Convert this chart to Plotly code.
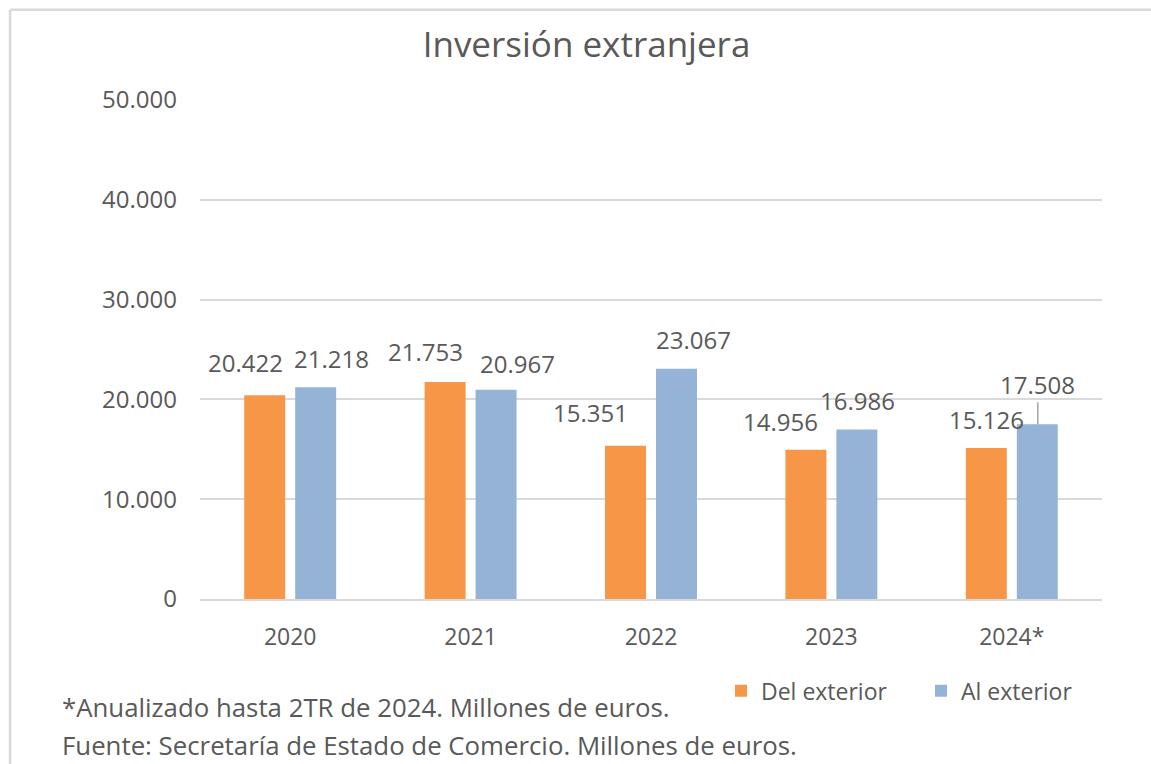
import plotly.graph_objects as go

categories = ["2020", "2021", "2022", "2023", "2024*"]
del_exterior = [20422, 21753, 15351, 14956, 15126]
al_exterior = [21218, 20967, 23067, 16986, 17508]
series_names = ["Del exterior", "Al exterior"]
title_text = "Inversión extranjera"
notes = ["*Anualizado hasta 2TR de 2024. Millones de euros.",
         "Fuente: Secretaría de Estado de Comercio. Millones de euros."]

# label nudges (px): dx from group centre, dy above bar top
del_dx = [-45, -45, -61, -51, -25]
del_dy = [33, 30, 33, 28, 29]
al_dx = [41, 47, 42, 26, 26]
al_dy = [29, 26, 29, 28.5, 40]
al_leader = [False, False, False, False, True]

ORANGE = "#F79646"
BLUE = "#95B3D7"
TXT = "#595959"
GRID = "#D9D9D9"
FONT = "Open Sans"

def fmt(v):
    return f"{v:,}".replace(",", ".")

fig = go.Figure()
fig.add_trace(go.Bar(x=categories, y=del_exterior, name=series_names[0],
                     marker=dict(color=ORANGE, line=dict(width=0))))
fig.add_trace(go.Bar(x=categories, y=al_exterior, name=series_names[1],
                     marker=dict(color=BLUE, line=dict(width=0))))

annotations = []
for i, c in enumerate(categories):
    annotations.append(dict(x=i, y=del_exterior[i], xref="x", yref="y",
                            text=fmt(del_exterior[i]), showarrow=False,
                            xshift=del_dx[i], yshift=del_dy[i], yanchor="middle",
                            font=dict(family=FONT, size=24, color=TXT)))
    if al_leader[i]:
        annotations.append(dict(x=i, y=al_exterior[i], xref="x", yref="y",
                                text=fmt(al_exterior[i]), showarrow=True,
                                arrowhead=0, arrowwidth=1.5, arrowcolor="#A6A6A6",
                                ax=0, ay=-al_dy[i], xshift=al_dx[i],
                                font=dict(family=FONT, size=24, color=TXT)))
    else:
        annotations.append(dict(x=i, y=al_exterior[i], xref="x", yref="y",
                                text=fmt(al_exterior[i]), showarrow=False,
                                xshift=al_dx[i], yshift=al_dy[i], yanchor="middle",
                                font=dict(family=FONT, size=24, color=TXT)))

annotations.append(dict(x=-0.155, y=-0.2164, xref="paper", yref="paper",
                        text=notes[0], showarrow=False, xanchor="left", yanchor="middle",
                        font=dict(family=FONT, size=25.8, color=TXT)))
annotations.append(dict(x=-0.155, y=-0.2926, xref="paper", yref="paper",
                        text=notes[1], showarrow=False, xanchor="left", yanchor="middle",
                        font=dict(family=FONT, size=25.8, color=TXT)))

fig.update_layout(
    width=1151, height=764,
    margin=dict(l=200, r=49, t=100, b=165),
    paper_bgcolor="white", plot_bgcolor="white",
    separators=",.",
    barmode="group", bargap=0.435, bargroupgap=0.196,
    title=dict(text=title_text, x=0.4285, xref="paper", xanchor="center",
               y=0.9415, yref="container", yanchor="middle",
               font=dict(family=FONT, size=35, color=TXT)),
    font=dict(family=FONT, color=TXT),
    legend=dict(orientation="h", x=0.5776, xanchor="left", y=-0.184, yanchor="middle",
                entrywidth=155, entrywidthmode="pixels",
                font=dict(family=FONT, size=23, color=TXT), bgcolor="rgba(0,0,0,0)"),
    annotations=annotations,
    shapes=[
        dict(type="line", xref="paper", yref="paper",
             x0=-0.2106, x1=1.3, y0=1.181, y1=1.181,
             line=dict(color=GRID, width=2.5), layer="below"),
        dict(type="line", xref="paper", yref="paper",
             x0=-0.2106, x1=-0.2106, y0=-0.5, y1=1.181,
             line=dict(color=GRID, width=2.5), layer="below"),
    ],
)
fig.update_yaxes(range=[0, 50000], dtick=10000, tickformat=",d",
                 showgrid=True, gridcolor=GRID, gridwidth=2, zeroline=False,
                 ticklabelstandoff=22, tickfont=dict(family=FONT, size=24, color=TXT))
fig.update_xaxes(type="category", showline=True, linecolor=GRID, linewidth=2,
                 showgrid=False, ticks="", ticklabelstandoff=16,
                 tickfont=dict(family=FONT, size=23, color=TXT))

fig.write_html("out.html",
               config={"displayModeBar": False},
               post_script="document.body.style.margin='0px';"
                           "document.body.style.overflow='hidden';")
